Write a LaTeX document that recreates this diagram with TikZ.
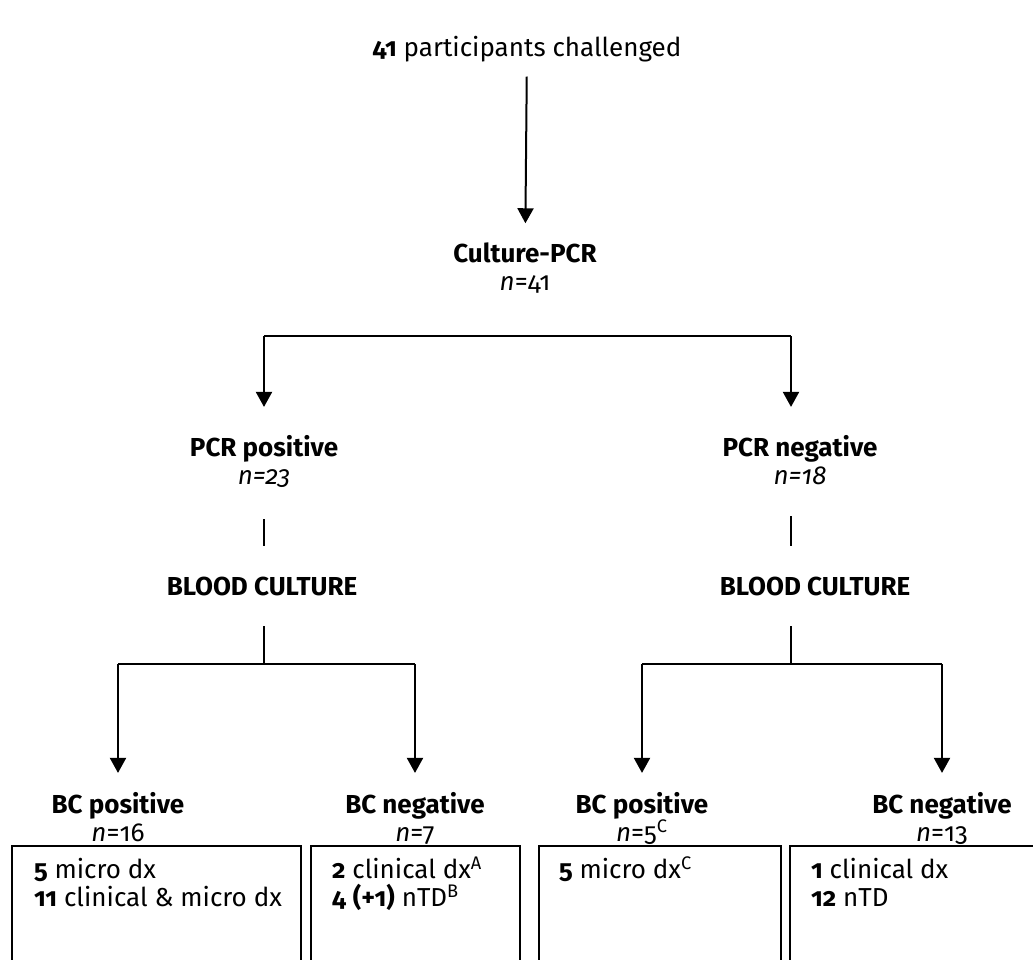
\documentclass[tikz,border=0pt]{standalone}
\usepackage{fontspec}
\setmainfont{Fira Sans}[Numbers=OldStyle]
\usetikzlibrary{arrows.meta}

\tikzset{
  lbl/.style={align=center, inner sep=0pt, anchor=base},
  outbox/.style={draw, line width=1.2pt, anchor=north west, minimum height=80pt, inner sep=0pt},
  boxtxt/.style={align=left, inner sep=0pt, anchor=base west},
}

\begin{document}
\begin{tikzpicture}[x=0.5pt, y=-0.5pt, line width=1pt,
    >={Triangle[width=8pt,length=7.5pt]},
    font=\fontsize{13}{14}\selectfont]
  \useasboundingbox (0,0) rectangle (1033,959);

  % labels (y = baseline of the last line)
  \node[lbl] (start) at (527,56) {\textbf{41} participants challenged};
  \node[lbl] (cpcr) at (525,290) {\textbf{Culture-PCR}\\\textit{n}=41};
  \node[lbl] (pcrpos) at (264,484) {\textbf{PCR positive}\\\textit{n=23}};
  \node[lbl] (pcrneg) at (800,484) {\textbf{PCR negative}\\\textit{n=18}};
  \node[lbl] (bcl) at (262,595) {\textbf{BLOOD CULTURE}};
  \node[lbl] (bcr) at (815,595) {\textbf{BLOOD CULTURE}};
  \node[lbl] (bcposl) at (118,841) {\textbf{BC positive}\\\textit{n}=16};
  \node[lbl] (bcnegl) at (415,841) {\textbf{BC negative}\\\textit{n}=7};
  \node[lbl] (bcposr) at (642,841) {\textbf{BC positive}\\\textit{n}=5\textsuperscript{C}};
  \node[lbl] (bcnegr) at (942,841) {\textbf{BC negative}\\\textit{n}=13};

  % outcome boxes
  \node[outbox, minimum width=144.5pt] (out1) at (11,845) {};
  \node[outbox, minimum width=104.5pt] (out2) at (310,845) {};
  \node[outbox, minimum width=121pt] (out3) at (538,845) {};
  \node[outbox, minimum width=130pt] (out4) at (789,845) {};
  \node[boxtxt] (txt1) at (33,906) {\textbf{5} micro dx\\\textbf{11} clinical \& micro dx};
  \node[boxtxt] (txt2) at (331,906) {\textbf{2} clinical dx\textsuperscript{A}\\\textbf{4} \textbf{(+1)} nTD\textsuperscript{B}};
  \node[boxtxt] (txt3) at (558,878) {\textbf{5} micro dx\textsuperscript{C}};
  \node[boxtxt] (txt4) at (810,906) {\textbf{1} clinical dx\\\textbf{12} nTD};

  % branch points
  \coordinate (j0l) at (264,336);
  \coordinate (j0r) at (791,336);
  \coordinate (j1l) at (264,664);
  \coordinate (j1r) at (791,664);
  \coordinate (j1a) at (118,664);
  \coordinate (j1b) at (415,664);
  \coordinate (j1c) at (642,664);
  \coordinate (j1d) at (942,664);

  \draw[->, shorten <=7pt, shorten >=9pt] (start) -- (cpcr);
  \draw (j0l) -- (j0r);
  \draw[->, shorten >=13.5pt] (j0l) -- (pcrpos);
  \draw[->, shorten >=13.5pt] (j0r) -- (j0r |- pcrneg.north);
  \draw[shorten <=15.5pt, shorten >=15pt] (pcrpos) -- (bcl.north -| pcrpos);
  \draw[shorten <=15.5pt, shorten >=15pt] (pcrneg.south -| j0r) -- (bcr.north -| j0r);
  \draw[shorten <=15pt] (bcl.south -| j1l) -- (j1l);
  \draw[shorten <=15pt] (bcr.south -| j1r) -- (j1r);
  \draw (j1a) -- (j1b);
  \draw (j1c) -- (j1d);
  \draw[->, shorten >=9pt] (j1a) -- (bcposl);
  \draw[->, shorten >=9pt] (j1b) -- (bcnegl);
  \draw[->, shorten >=9pt] (j1c) -- (bcposr);
  \draw[->, shorten >=9pt] (j1d) -- (bcnegr);
\end{tikzpicture}
\end{document}
